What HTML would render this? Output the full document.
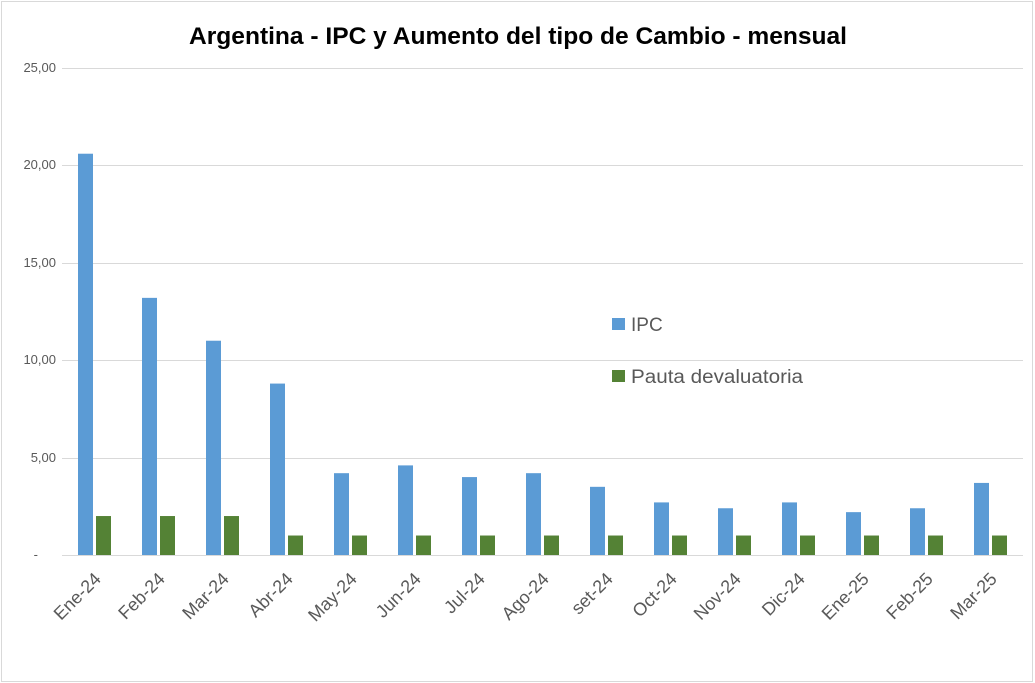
<!DOCTYPE html>
<html><head><meta charset="utf-8"><style>
html,body{margin:0;padding:0;background:#fff;}
svg{display:block;font-family:"Liberation Sans",sans-serif;}
</style></head><body>
<svg width="1035" height="683" viewBox="0 0 1035 683" xmlns="http://www.w3.org/2000/svg">
<rect x="1.5" y="1.5" width="1031" height="680" fill="#fff" stroke="#d9d9d9"/>
<text x="518" y="44" text-anchor="middle" font-size="24" font-weight="bold" fill="#000" textLength="658" lengthAdjust="spacingAndGlyphs">Argentina - IPC y Aumento del tipo de Cambio - mensual</text>
<g stroke="#d9d9d9" stroke-width="1">
<line x1="62" x2="1023" y1="68.5" y2="68.5"/>
<line x1="62" x2="1023" y1="165.5" y2="165.5"/>
<line x1="62" x2="1023" y1="263.5" y2="263.5"/>
<line x1="62" x2="1023" y1="360.5" y2="360.5"/>
<line x1="62" x2="1023" y1="458.5" y2="458.5"/>
<line x1="62" x2="1023" y1="555.5" y2="555.5"/>
</g>
<g font-size="13" fill="#595959" text-anchor="end">
<text x="56" y="72">25,00</text>
<text x="56" y="169">20,00</text>
<text x="56" y="267">15,00</text>
<text x="56" y="364">10,00</text>
<text x="56" y="462">5,00</text>
<text x="38" y="559">-</text>
</g>
<g id="bars"></g>
<rect x="612" y="318" width="13" height="12" fill="#5b9bd5"/>
<rect x="612" y="370" width="13" height="12" fill="#548235"/>
<text x="631" y="331" font-size="19" fill="#595959">IPC</text>
<text x="631" y="383" font-size="19" fill="#595959" textLength="172" lengthAdjust="spacingAndGlyphs">Pauta devaluatoria</text>
<g id="labels" font-size="18" fill="#595959" text-anchor="end"></g>
</svg>
<script>
var ipc=[20.6,13.2,11.0,8.8,4.2,4.6,4.0,4.2,3.5,2.7,2.4,2.7,2.2,2.4,3.7];
var pd=[2,2,2,1,1,1,1,1,1,1,1,1,1,1,1];
var lab=["Ene-24","Feb-24","Mar-24","Abr-24","May-24","Jun-24","Jul-24","Ago-24","set-24","Oct-24","Nov-24","Dic-24","Ene-25","Feb-25","Mar-25"];
var ns="http://www.w3.org/2000/svg",b=document.getElementById("bars"),l=document.getElementById("labels");
var k=487/25;
for(var i=0;i<15;i++){
 var x=78+i*64;
 var r=document.createElementNS(ns,"rect");r.setAttribute("x",x);r.setAttribute("width",15);
 var h=ipc[i]*k;r.setAttribute("y",555-h);r.setAttribute("height",h);r.setAttribute("fill","#5b9bd5");b.appendChild(r);
 r=document.createElementNS(ns,"rect");r.setAttribute("x",x+18);r.setAttribute("width",15);
 h=pd[i]*k;r.setAttribute("y",555-h);r.setAttribute("height",h);r.setAttribute("fill","#548235");b.appendChild(r);
 var t=document.createElementNS(ns,"text");var cx=x+24,cy=580;
 t.setAttribute("x",cx);t.setAttribute("y",cy);t.setAttribute("transform","rotate(-45 "+cx+" "+cy+")");
 t.textContent=lab[i];l.appendChild(t);
}
</script>
</body></html>
